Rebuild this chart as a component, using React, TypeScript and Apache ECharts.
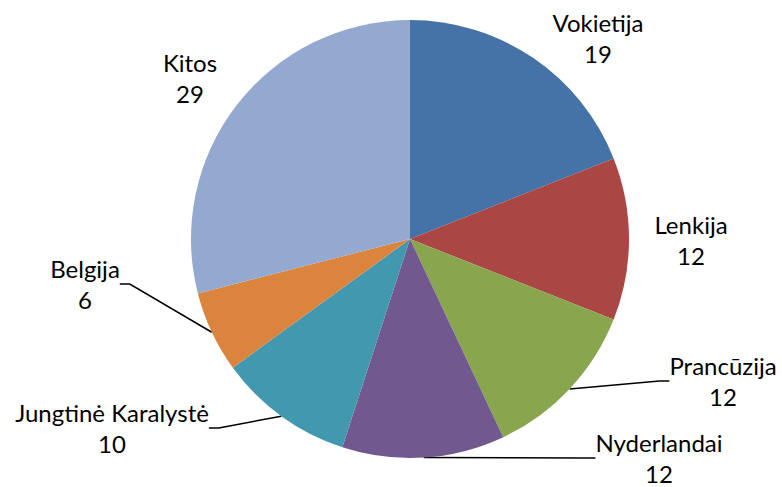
import React, { useEffect, useRef } from "react";
import * as echarts from "echarts";

const categories = ["Vokietija", "Lenkija", "Prancūzija", "Nyderlandai", "Jungtinė Karalystė", "Belgija", "Kitos"];
const values = [19, 12, 12, 12, 10, 6, 29];
const colors = ["#4572A7", "#AA4643", "#89A54E", "#71588F", "#4198AF", "#DB843D", "#93A9CF"];
const showLines = [false, false, true, true, true, true, false];
const labelPos: [number, number][] = [
  [598, 38],
  [691, 240],
  [723, 381],
  [659, 458],
  [112, 428],
  [85, 284],
  [190, 78],
];

export default function App() {
  const ref = useRef<HTMLDivElement>(null);
  useEffect(() => {
    if (!ref.current) return;
    const chart = echarts.init(ref.current, null, { renderer: "svg" });
    chart.setOption({
      animation: false,
      series: [
        {
          type: "pie",
          center: [410, 239],
          radius: 219,
          startAngle: 90,
          clockwise: true,
          data: categories.map((name, i) => ({
            name,
            value: values[i],
            itemStyle: { color: colors[i] },
            labelLine: { show: showLines[i] },
          })),
          label: {
            show: true,
            formatter: "{b}\n{c}",
            fontFamily: "Lato",
            fontSize: 24,
            lineHeight: 31,
            color: "#000",
            align: "center",
          },
          labelLine: {
            lineStyle: { color: "#000", width: 1.5 },
            length: 10,
            length2: 10,
          },
          labelLayout: (p: any) => ({
            x: labelPos[p.dataIndex][0],
            y: labelPos[p.dataIndex][1],
            align: "center",
            verticalAlign: "middle",
          }),
          emphasis: { disabled: true },
        },
      ],
    });
    return () => chart.dispose();
  }, []);
  return <div ref={ref} style={{ position: "absolute", left: 0, top: 0, width: 782, height: 487 }} />;
}
